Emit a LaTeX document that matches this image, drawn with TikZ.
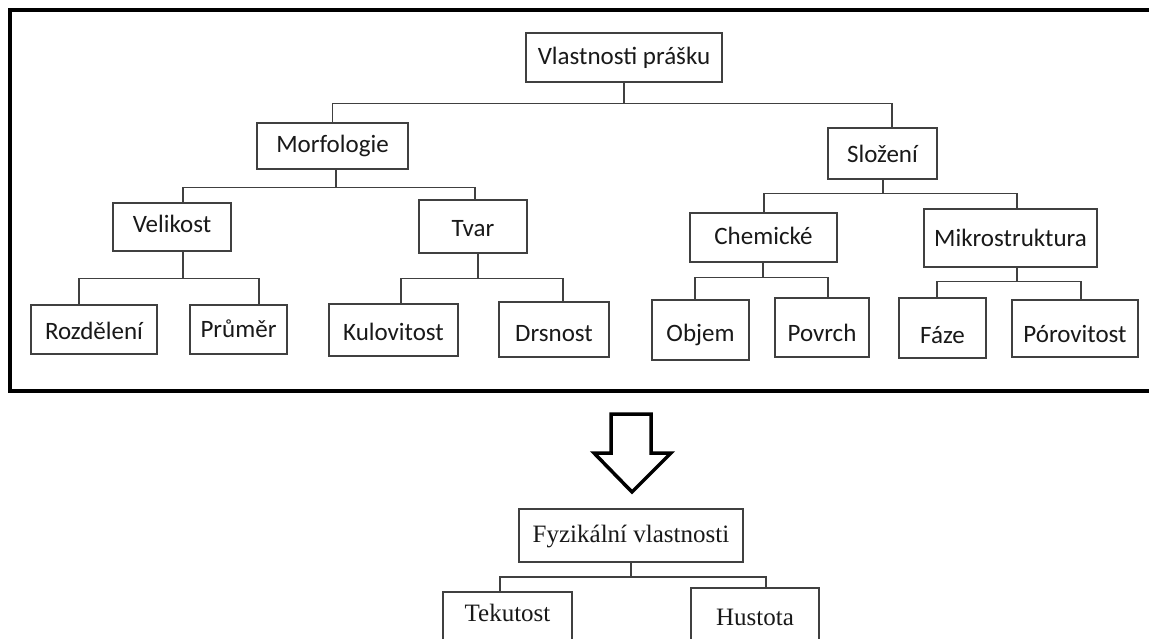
\documentclass[tikz,border=0pt]{standalone}
\usepackage{fontspec}
\setmainfont{Carlito}
\newfontfamily\timesface{Liberation Serif}
\begin{document}
\begin{tikzpicture}[x=1pt, y=-1pt,
  % boxes are placed by their text baseline; text height/depth give the box edges
  box/.style={draw=black!75, line width=1.5pt, fill=white, inner sep=0pt,
    anchor=base, text=black!90, font=\fontsize{25}{29}\selectfont},
  sbox/.style={box, font=\timesface\fontsize{25}{29}\selectfont},
  edges/.style 2 args={text height=#1pt, text depth=#2pt},
  link/.style={draw=black!75, line width=1.5pt},
  frame/.style={draw=black, line width=4pt},
  bigarrow/.style={draw=black, line width=3.5pt, line join=miter, fill=white}]
\useasboundingbox (0,0) rectangle (1149,639);
\fill[white] (0,0) rectangle (1149,639);

% enclosing frame of the upper tree
\draw[frame] (10,10) rectangle (1151,391);

% upper tree
\node[box, edges={32}{17}, minimum width=196] (root) at (624,65) {Vlastnosti prášku};
\node[box, edges={30}{16}, minimum width=151] (morf) at (332.5,153) {Morfologie};
\node[box, edges={35}{16}, minimum width=109] (slo) at (882.5,163) {Složení};

\node[box, edges={30}{18}, minimum width=118] (vel) at (172,233) {Velikost};
\node[box, edges={37}{16}, minimum width=108] (tvar) at (473,237) {Tvar};
\node[box, edges={32}{17}, minimum width=147] (chem) at (763.5,245) {Chemické};
\node[box, edges={38}{20}, minimum width=173] (mikro) at (1010.5,247) {Mikrostruktura};

\node[box, edges={34}{15}, minimum width=126] (roz) at (94,339) {Rozdělení};
\node[box, edges={32}{17}, minimum width=97] (pru) at (238.5,337) {Průměr};
\node[box, edges={36.5}{15.5}, minimum width=129] (kul) at (393.5,340.5) {Kulovitost};
\node[box, edges={39.5}{15.5}, minimum width=110] (drs) at (554,341.5) {Drsnost};
\node[box, edges={41}{19}, minimum width=97] (obj) at (700.5,341) {Objem};
\node[box, edges={43.5}{15.5}, minimum width=94] (pov) at (822,341.5) {Povrch};
\node[box, edges={45}{15}, minimum width=87] (faze) at (942.5,343) {Fáze};
\node[box, edges={42.5}{14.5}, minimum width=126] (por) at (1075,342.5) {Pórovitost};

% connectors of the upper tree
\draw[link] (root.south) -- ++(0,21) coordinate (rootbus) -| (morf.north);
\draw[link] (rootbus) -| ([xshift=9.5pt]slo.north);

\draw[link] ([xshift=3.5pt]morf.south) -- ++(0,18) -| ([xshift=11pt]vel.north);
\draw[link] ([xshift=3.5pt]morf.south) ++(0,18) -| ([xshift=2pt]tvar.north);

\draw[link] ([xshift=0.5pt]slo.south) -- ++(0,14) -| ([xshift=0.5pt]chem.north);
\draw[link] ([xshift=0.5pt]slo.south) ++(0,14) -| ([xshift=6.5pt]mikro.north);

\draw[link] ([xshift=11pt]vel.south) -- ++(0,27) -| ([xshift=-15pt]roz.north);
\draw[link] ([xshift=11pt]vel.south) ++(0,27) -| ([xshift=20.5pt]pru.north);

\draw[link] ([xshift=5pt]tvar.south) -- ++(0,25) -| ([xshift=7.5pt]kul.north);
\draw[link] ([xshift=5pt]tvar.south) ++(0,25) -| ([xshift=9pt]drs.north);

\draw[link] ([xshift=-0.5pt]chem.south) -- ++(0,15) -| ([xshift=-5.5pt]obj.north);
\draw[link] ([xshift=-0.5pt]chem.south) ++(0,15) -| ([xshift=6pt]pov.north);

\draw[link] ([xshift=6.5pt]mikro.south) -- ++(0,14) -| ([xshift=-5.5pt]faze.north);
\draw[link] ([xshift=6.5pt]mikro.south) ++(0,14) -| ([xshift=6pt]por.north);

% hollow block arrow
\draw[bigarrow] (611,414) -- (651,414) -- (651,453) -- (671,453) -- (632,492)
  -- (594,453) -- (611,453) -- cycle;

% lower tree (its child boxes run past the lower edge)
\node[sbox, edges={33.7}{19.3}, minimum width=224] (fyz) at (631,542.7) {Fyzikální vlastnosti};
\node[sbox, edges={29.7}{48}, minimum width=129] (tek) at (507.5,621.7) {Tekutost};
\node[sbox, edges={37}{45}, minimum width=128] (hus) at (755,625) {Hustota};

\draw[link] (fyz.south) -- ++(0,14) -| ([xshift=-7.5pt]tek.north);
\draw[link] (fyz.south) ++(0,14) -| ([xshift=11pt]hus.north);
\end{tikzpicture}
\end{document}
